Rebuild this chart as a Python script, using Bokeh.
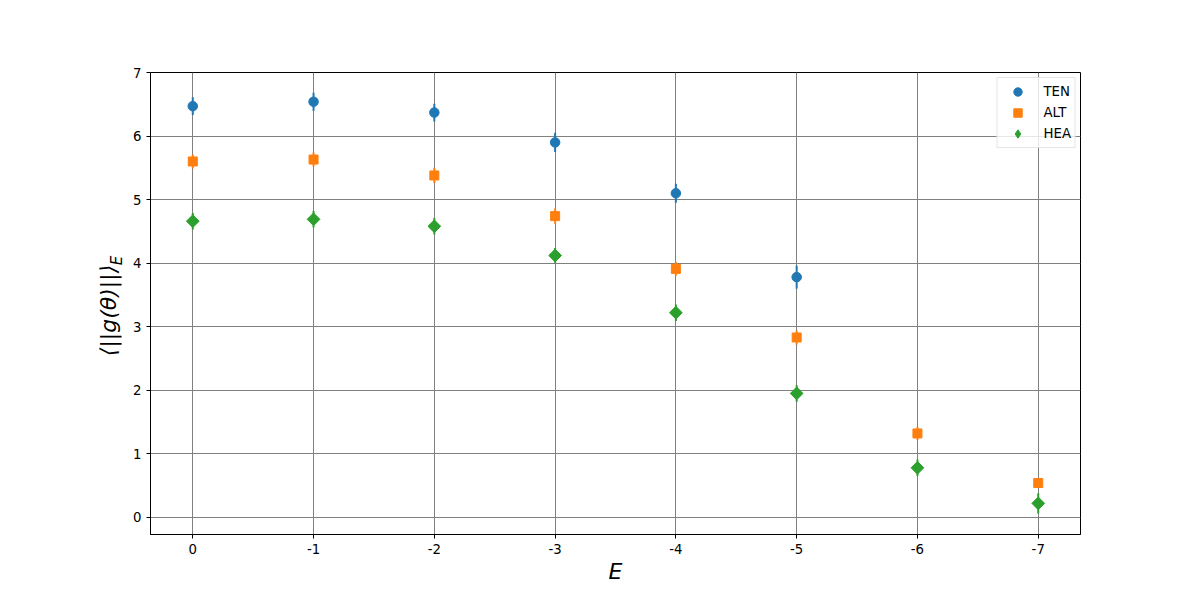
import math
from bokeh.plotting import figure
from bokeh.models import (Range1d, FixedTicker, Legend, LegendItem,
                          ColumnDataSource, LinearAxis)
from bokeh.embed import file_html
from bokeh.resources import INLINE

# ---- data ----
E_positions = [0, 1, 2, 3, 4, 5, 6, 7]
E_labels = ["0", "-1", "-2", "-3", "-4", "-5", "-6", "-7"]
y_ticks = [0, 1, 2, 3, 4, 5, 6, 7]

ten_x = [0, 1, 2, 3, 4, 5]
ten = [6.47, 6.54, 6.37, 5.90, 5.10, 3.78]
ten_err = [0.14, 0.14, 0.14, 0.15, 0.15, 0.18]

alt_x = [0, 1, 2, 3, 4, 5, 6, 7]
alt = [5.60, 5.63, 5.38, 4.74, 3.91, 2.83, 1.32, 0.54]
alt_err = [0.11, 0.11, 0.12, 0.12, 0.11, 0.11, 0.10, 0.08]

hea_x = [0, 1, 2, 3, 4, 5, 6, 7]
hea = [4.66, 4.69, 4.58, 4.12, 3.22, 1.95, 0.78, 0.22]
hea_err = [0.13, 0.13, 0.13, 0.12, 0.13, 0.13, 0.13, 0.16]

FONT = "DejaVu Sans"

p = figure(width=1184, height=588, output_backend="svg", toolbar_location=None,
           min_border_left=150, min_border_right=104, min_border_top=72,
           min_border_bottom=54,
           x_range=Range1d(-0.35, 7.35), y_range=Range1d(-0.27, 7.0))
p.background_fill_color = "white"
p.border_fill_color = "white"
p.outline_line_color = "black"
p.outline_line_width = 1

for ax in (p.xaxis, p.yaxis):
    ax.axis_line_color = "black"
    ax.major_tick_line_color = "black"
    ax.major_tick_out = 4
    ax.major_tick_in = 0
    ax.minor_tick_line_color = None
    ax.major_label_text_font = FONT
    ax.major_label_text_font_size = "13.3px"
    ax.major_label_text_color = "black"
    ax.major_label_standoff = 5
    ax.axis_label_text_font = FONT
    ax.axis_label_text_font_style = "italic"
    ax.axis_label_text_color = "black"

p.xaxis.ticker = FixedTicker(ticks=E_positions)
p.xaxis.major_label_overrides = {pos: lab for pos, lab in zip(E_positions, E_labels)}
p.yaxis.ticker = FixedTicker(ticks=y_ticks)

p.xaxis.axis_label = "E"
p.xaxis.axis_label_text_font_size = "22px"
p.xaxis.axis_label_standoff = 2

p.yaxis.axis_label = "⟨||g(θ)||⟩" + "\u00a0" * 2
p.yaxis.axis_label_text_font_size = "22px"
p.yaxis.axis_label_standoff = 9

# subscript E of the y label, on an extra bare axis
sub_axis = LinearAxis(ticker=FixedTicker(ticks=[]), axis_line_color=None,
                      major_tick_line_color=None, minor_tick_line_color=None,
                      major_label_text_font_size="0px",
                      axis_label="\u00a0" * 18 + "E",
                      axis_label_text_font=FONT,
                      axis_label_text_font_style="italic",
                      axis_label_text_font_size="15px",
                      axis_label_text_color="black",
                      axis_label_standoff=-32)
p.add_layout(sub_axis, "left")

for g in (p.xgrid, p.ygrid):
    g.grid_line_color = "gray"
    g.grid_line_width = 1
p.xgrid.ticker = FixedTicker(ticks=E_positions)
p.ygrid.ticker = FixedTicker(ticks=y_ticks)

series = [
    ("TEN", ten_x, ten, ten_err, "#1f77b4", "circle", 0.0, 9.5, "circle"),
    ("ALT", alt_x, alt, alt_err, "#ff7f0e", "square", 0.0, 9.0, "square"),
    ("HEA", hea_x, hea, hea_err, "#2ca02c", "square", math.pi / 4, 9.0, "diamond"),
]

items = []
for name, xs, ys, es, color, marker, ang, size, leg_marker in series:
    src = ColumnDataSource(dict(
        x=xs, y=ys,
        lo=[y - e for y, e in zip(ys, es)],
        hi=[y + e for y, e in zip(ys, es)],
    ))
    p.segment(x0="x", y0="lo", x1="x", y1="hi", source=src,
              line_color=color, line_width=2)
    key = None
    if leg_marker != marker:
        # diamond glyph hidden under the rotated squares; used for the legend key
        key = p.scatter(x="x", y="y", source=src, marker=leg_marker, size=8,
                        fill_color=color, line_color=color)
    sc = p.scatter(x="x", y="y", source=src, marker=marker, size=size,
                   angle=ang, fill_color=color, line_color=color, line_width=1)
    items.append(LegendItem(label=name, renderers=[key if key is not None else sc]))

legend = Legend(items=items, location="top_right", margin=5, padding=3,
                spacing=0, glyph_width=34, glyph_height=21, label_height=21,
                label_standoff=9, label_text_font=FONT,
                label_text_font_size="13.3px", label_text_color="black",
                background_fill_color="white", background_fill_alpha=0.8,
                border_line_color="#cccccc", border_line_width=1)
p.add_layout(legend)

open("out.html", "w").write(file_html(p, INLINE))
